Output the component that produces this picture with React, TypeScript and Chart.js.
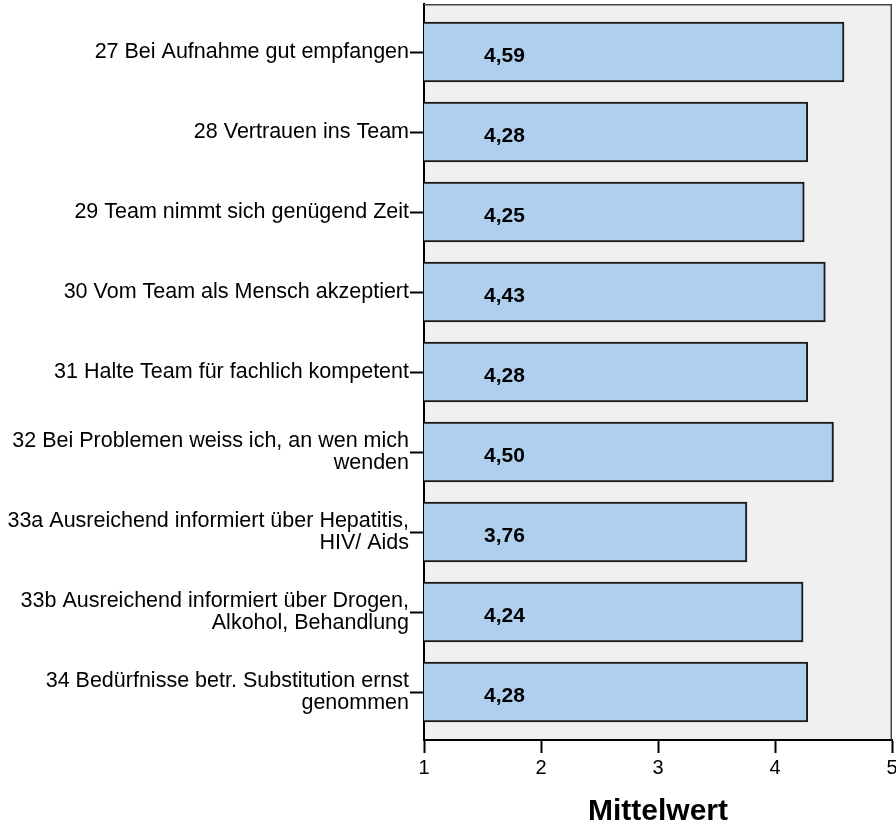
import React, { useEffect, useRef } from "react";
import { Chart, registerables } from "chart.js";

Chart.register(...registerables);

const categories: (string | string[])[] = [
  "27 Bei Aufnahme gut empfangen",
  "28 Vertrauen ins Team",
  "29 Team nimmt sich genügend Zeit",
  "30 Vom Team als Mensch akzeptiert",
  "31 Halte Team für fachlich kompetent",
  ["32 Bei Problemen weiss ich, an wen mich", "wenden"],
  ["33a Ausreichend informiert über Hepatitis,", "HIV/ Aids"],
  ["33b Ausreichend informiert über Drogen,", "Alkohol, Behandlung"],
  ["34 Bedürfnisse betr. Substitution ernst", "genommen"],
];
const means = [4.59, 4.28, 4.25, 4.43, 4.28, 4.5, 3.76, 4.24, 4.28];
const xTicks = [1, 2, 3, 4, 5];
const axisTitle = "Mittelwert";

const FONT = "'Liberation Sans', Arial, Helvetica, sans-serif";

const plotDecor = {
  id: "plotDecor",
  beforeDraw(chart: any) {
    const { ctx, chartArea: a } = chart;
    ctx.save();
    ctx.fillStyle = "#f0f0f0";
    ctx.fillRect(a.left, a.top, a.right - a.left, a.bottom - a.top);
    ctx.restore();
  },
  afterDraw(chart: any) {
    const { ctx, chartArea: a } = chart;
    ctx.save();
    ctx.strokeStyle = "#444";
    ctx.lineWidth = 1.5;
    ctx.beginPath();
    ctx.moveTo(a.left, a.top + 0.75);
    ctx.lineTo(a.right - 0.75, a.top + 0.75);
    ctx.lineTo(a.right - 0.75, a.bottom);
    ctx.stroke();
    ctx.restore();
  },
  afterDatasetsDraw(chart: any) {
    const { ctx } = chart;
    const meta = chart.getDatasetMeta(0);
    const xs = chart.scales.x;
    ctx.save();
    ctx.fillStyle = "#000";
    ctx.font = `bold 21px ${FONT}`;
    ctx.textAlign = "left";
    ctx.textBaseline = "alphabetic";
    meta.data.forEach((bar: any, i: number) => {
      const txt = means[i].toFixed(2).replace(".", ",");
      ctx.fillText(txt, xs.getPixelForValue(xTicks[0]) + 60, bar.y + 10);
    });
    ctx.restore();
  },
};

export default function App() {
  const ref = useRef<HTMLCanvasElement | null>(null);
  useEffect(() => {
    if (!ref.current) return;
    Chart.defaults.font.family = FONT;
    const chart = new Chart(ref.current, {
      type: "bar",
      data: {
        datasets: [
          {
            data: means.map((v, i) => ({ x: v, y: i })),
            backgroundColor: "#aed0ee",
            borderColor: "#1a1a1a",
            borderWidth: 2,
            borderSkipped: false,
            barThickness: 60,
          },
        ],
      },
      options: {
        indexAxis: "y",
        animation: false,
        responsive: false,
        devicePixelRatio: 1,
        layout: { padding: { top: 4, right: 4, left: 0, bottom: 0 }, autoPadding: false },
        plugins: { legend: { display: false }, tooltip: { enabled: false } },
        scales: {
          y: {
            type: "linear",
            reverse: true,
            offset: false,
            min: -0.6,
            max: categories.length - 1 + 0.6,
            afterBuildTicks: (s: any) => {
              s.ticks = categories.map((_, i) => ({ value: i }));
            },
            ticks: {
              callback: (v: any) => categories[v as number],
              font: { size: 21.5, lineHeight: 1.03 },
              color: "#000",
              padding: 1,
              autoSkip: false,
            },
            grid: { offset: false, drawOnChartArea: false, tickLength: 14, tickColor: "#000", tickWidth: 2 },
            border: { color: "#000", width: 2 },
            afterFit: (s: any) => {
              s.width = 424;
              s.paddingTop = 0;
              s.paddingBottom = 0;
            },
          },
          x: {
            type: "linear",
            min: xTicks[0],
            max: xTicks[xTicks.length - 1],
            afterBuildTicks: (s: any) => {
              s.ticks = xTicks.map((v) => ({ value: v }));
            },
            ticks: { font: { size: 20 }, color: "#000", padding: 3 },
            grid: { drawOnChartArea: false, tickLength: 13, tickColor: "#000", tickWidth: 2 },
            border: { color: "#000", width: 2 },
            title: {
              display: true,
              text: axisTitle,
              color: "#000",
              font: { size: 30, weight: "bold", lineHeight: 0.9 },
              padding: { top: 0, bottom: 0 },
            },
            afterFit: (s: any) => {
              s.height = 85;
              s.paddingLeft = 0;
              s.paddingRight = 0;
            },
          },
        },
      },
      plugins: [plotDecor],
    } as any);
    return () => chart.destroy();
  }, []);
  return (
    <div style={{ position: "absolute", left: 0, top: 0, width: 896, height: 825, background: "#fff" }}>
      <canvas ref={ref} width={896} height={825} style={{ display: "block" }} />
    </div>
  );
}
